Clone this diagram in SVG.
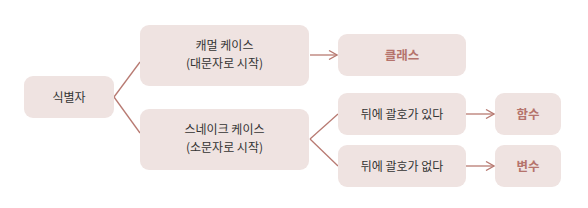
<svg xmlns="http://www.w3.org/2000/svg" width="588" height="208" viewBox="0 0 588 208">
<defs>
<style>
.box{fill:#EFE3E1;}
.t{font-family:"Noto Sans CJK KR","Noto Sans",sans-serif;font-size:12px;fill:#333;text-anchor:middle;}
.r{font-family:"Noto Sans CJK KR","Noto Sans",sans-serif;font-size:12.5px;font-weight:bold;fill:#B5736C;text-anchor:middle;}
.c{fill:none;stroke:#B87A72;stroke-width:1.3;}
</style>
<marker id="ah" viewBox="0 0 10 10" refX="9" refY="5" markerWidth="10" markerHeight="10" markerUnits="userSpaceOnUse" orient="auto">
<path d="M1,0.5 L9,5 L1,9.5" fill="none" stroke="#B87A72" stroke-width="1.3"/>
</marker>
</defs>
<rect width="588" height="208" fill="#fff"/>
<g id="connectors">
<path class="c" d="M114,97 L140,62"/>
<path class="c" d="M114,97 L140,133"/>
<path class="c" d="M310,139 L338,114"/>
<path class="c" d="M310,139 L338,166"/>
<path class="c" d="M310,55 L337,55" marker-end="url(#ah)"/>
<path class="c" d="M466,114 L494,114" marker-end="url(#ah)"/>
<path class="c" d="M466,166 L494,166" marker-end="url(#ah)"/>
</g>
<g id="identifier"><rect class="box" x="24" y="76" width="90" height="42" rx="9"/><text class="t" x="69" y="101.5">식별자</text></g>
<g id="camel"><rect class="box" x="140" y="25" width="169" height="61" rx="9"/><text class="t" x="224.5" y="50">캐멀 케이스</text><text class="t" x="224.5" y="68">(대문자로 시작)</text></g>
<g id="snake"><rect class="box" x="140" y="109" width="169" height="61" rx="9"/><text class="t" x="224.5" y="134">스네이크 케이스</text><text class="t" x="224.5" y="152">(소문자로 시작)</text></g>
<g id="class"><rect class="box" x="338" y="34" width="128" height="42" rx="9"/><text class="r" x="402" y="59.5">클래스</text></g>
<g id="paren-yes"><rect class="box" x="338" y="93" width="128" height="42" rx="9"/><text class="t" x="402" y="118.5">뒤에 괄호가 있다</text></g>
<g id="paren-no"><rect class="box" x="338" y="145" width="128" height="42" rx="9"/><text class="t" x="402" y="170.5">뒤에 괄호가 없다</text></g>
<g id="function"><rect class="box" x="495" y="93" width="66" height="42" rx="9"/><text class="r" x="528" y="118.5">함수</text></g>
<g id="variable"><rect class="box" x="495" y="145" width="66" height="42" rx="9"/><text class="r" x="528" y="170.5">변수</text></g>
</svg>
